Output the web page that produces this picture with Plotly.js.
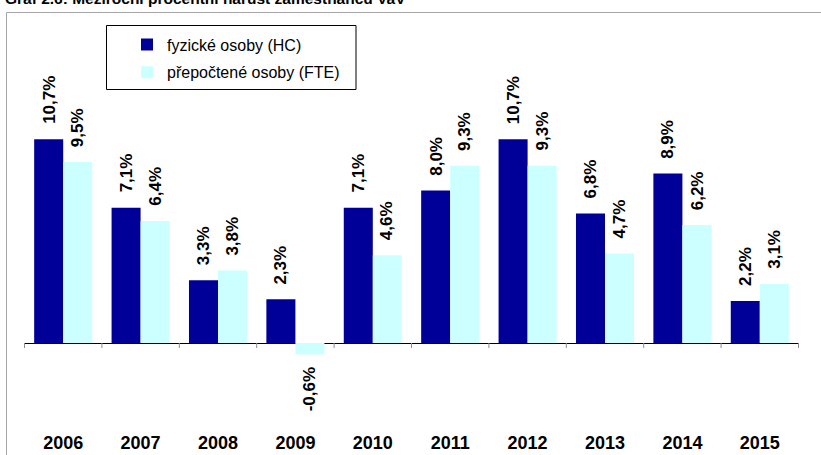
<!DOCTYPE html>
<html>
<head>
<meta charset="utf-8">
<script src="https://cdn.plot.ly/plotly-3.0.1.min.js"></script>
<style>
html, body { margin: 0; padding: 0; background: #ffffff; }
#chart { width: 821px; height: 455px; }
</style>
</head>
<body>
<div id="chart"></div>
<script>
// ---- data ----
const years = ['2006', '2007', '2008', '2009', '2010', '2011', '2012', '2013', '2014', '2015'];
const hcValues = [10.7, 7.1, 3.3, 2.3, 7.1, 8.0, 10.7, 6.8, 8.9, 2.2];
const fteValues = [9.5, 6.4, 3.8, -0.6, 4.6, 9.3, 9.3, 4.7, 6.2, 3.1];
const seriesNames = ['fyzické osoby (HC)', 'přepočtené osoby (FTE)'];
const chartTitle = 'Graf 2.6: Meziroční procentní nárůst zaměstnanců VaV';

// ---- styling ----
const FONT = 'Arial, "Liberation Sans", sans-serif';
const HC_COLOR = '#000099';
const FTE_COLOR = '#CCFFFF';
const BARGAP = 0.25;
const PLOT_TOP = 20, PLOT_BOTTOM = 430, PLOT_LEFT = 24, PLOT_RIGHT = 799;
const ZERO_PX = 343, PX_PER_UNIT = 19.05;
const Y_RANGE = [-(PLOT_BOTTOM - ZERO_PX) / PX_PER_UNIT, (ZERO_PX - PLOT_TOP) / PX_PER_UNIT];
const W = 821, H = 455;
const plotW = PLOT_RIGHT - PLOT_LEFT, plotH = PLOT_BOTTOM - PLOT_TOP;
const px2paperX = x => (x - PLOT_LEFT) / plotW;
const px2paperY = y => (PLOT_BOTTOM - y) / plotH;

const fmt = v => v.toFixed(1).replace('.', ',') + '%';

const traces = [
  { type: 'bar', x: years, y: hcValues, name: seriesNames[0], legendgroup: 'a',
    marker: { color: HC_COLOR, line: { width: 0 } }, hoverinfo: 'skip' },
  { type: 'bar', x: years, y: fteValues, name: seriesNames[1], legendgroup: 'b',
    marker: { color: FTE_COLOR, line: { width: 0 } }, hoverinfo: 'skip' }
];

// value labels
const barW = (1 - BARGAP) / 2;
const annotations = [];
[hcValues, fteValues].forEach((vals, s) => {
  const off = (s === 0 ? -1 : 1) * barW / 2;
  vals.forEach((v, i) => {
    const pos = v >= 0;
    annotations.push({
      x: i + off, y: v, xref: 'x', yref: 'y',
      text: fmt(v), showarrow: false, textangle: -90,
      xanchor: 'center', yanchor: pos ? 'bottom' : 'top',
      yshift: pos ? 13 : -11,
      font: { family: FONT, size: 17, weight: 'bold', color: '#000' }
    });
  });
});
annotations.push({
  x: px2paperX(3), y: px2paperY(9), xref: 'paper', yref: 'paper',
  xanchor: 'left', yanchor: 'bottom', showarrow: false, text: chartTitle,
  font: { family: FONT, size: 15.5, weight: 'bold', color: '#000' }
});

// shapes: category boundary ticks on zero line, legend box, outer frame
const shapes = [];
for (let k = 0; k <= years.length; k++) {
  shapes.push({ type: 'line', xref: 'x', yref: 'y', x0: k - 0.5, x1: k - 0.5,
    ysizemode: 'pixel', yanchor: 0, y0: 0, y1: -5,
    line: { color: '#8c8c8c', width: 1 } });
}
shapes.push({ type: 'rect', xref: 'paper', yref: 'paper',
  x0: px2paperX(106.5), x1: px2paperX(356), y0: px2paperY(89.5), y1: px2paperY(25.5),
  line: { color: '#000', width: 1 }, fillcolor: 'rgba(0,0,0,0)' });
shapes.push({ type: 'path', xref: 'paper', yref: 'paper',
  path: 'M ' + px2paperX(6.5) + ' ' + px2paperY(470) + ' L ' + px2paperX(6.5) + ' ' + px2paperY(12.5) + ' L ' + px2paperX(840) + ' ' + px2paperY(12.5),
  line: { color: '#a6a6a6', width: 1 } });

const layout = {
  width: W, height: H,
  margin: { l: PLOT_LEFT, r: W - PLOT_RIGHT, t: PLOT_TOP, b: H - PLOT_BOTTOM, pad: 0 },
  paper_bgcolor: '#ffffff', plot_bgcolor: 'rgba(0,0,0,0)',
  font: { family: FONT, color: '#000' },
  barmode: 'group', bargap: BARGAP, bargroupgap: 0,
  showlegend: true,
  legend: { x: px2paperX(127), xanchor: 'left', y: px2paperY(27.5), yanchor: 'top',
    font: { family: FONT, size: 16, color: '#000' }, bgcolor: 'rgba(0,0,0,0)',
    borderwidth: 0, traceorder: 'grouped', tracegroupgap: 4 },
  xaxis: { type: 'category', showline: false, ticks: '', showgrid: false, zeroline: false,
    tickfont: { family: FONT, size: 18, weight: 'bold', color: '#000' }, fixedrange: true },
  yaxis: { range: Y_RANGE, showgrid: false, zeroline: true, zerolinecolor: '#000',
    zerolinewidth: 1, showticklabels: false, ticks: '', showline: false, fixedrange: true },
  annotations: annotations,
  shapes: shapes
};

Plotly.newPlot('chart', traces, layout, { displayModeBar: false, staticPlot: true });
</script>
</body>
</html>
